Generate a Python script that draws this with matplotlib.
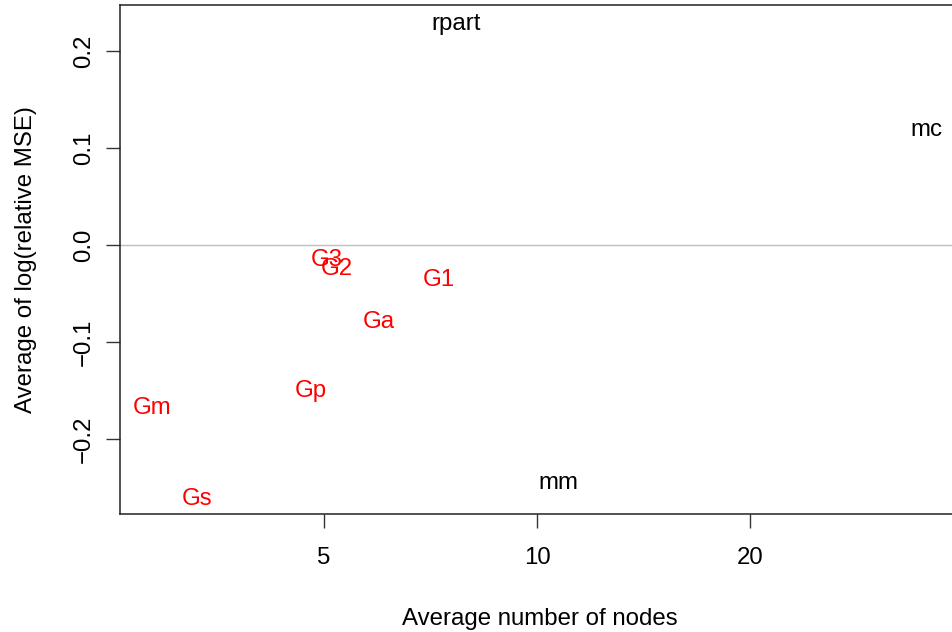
import matplotlib
matplotlib.use('Agg')
import matplotlib.pyplot as plt
from matplotlib.ticker import FixedLocator, NullLocator

plt.rcParams['font.family'] = ['Liberation Sans', 'DejaVu Sans']

# Method labels with average node count (x) and average log(relative MSE) (y)
methods = ['rpart', 'mc', 'mm', 'G3', 'G2', 'G1', 'Ga', 'Gp', 'Gm', 'Gs']
nodes = [7.68, 35.5, 10.71, 5.05, 5.21, 7.27, 5.98, 4.79, 2.86, 3.31]
rel_mse = [0.2305, 0.121, -0.243, -0.0134, -0.0217, -0.033, -0.0765, -0.148, -0.165, -0.259]
colours = ['black', 'black', 'black', 'red', 'red', 'red', 'red', 'red', 'red', 'red']

x_ticks = [5, 10, 20]
y_ticks = [-0.2, -0.1, 0.0, 0.1, 0.2]

W, H = 952, 632
fig = plt.figure(figsize=(W / 100, H / 100), dpi=100)
# the plot box runs past the right edge of the picture, as in the original
ax = fig.add_axes([120 / W, (H - 514) / H, (960 - 120) / W, (514 - 5) / H])

ax.set_xscale('log')
ax.set_xlim(2.574, 39.6)
ax.set_ylim(-0.2773, 0.2474)

ax.axhline(0, color='#BEBEBE', lw=1, zorder=1)

for lab, xv, yv, c in zip(methods, nodes, rel_mse, colours):
    ax.text(xv, yv, lab, color=c, fontsize=17.3, ha='center', va='center_baseline')

ax.xaxis.set_major_locator(FixedLocator(x_ticks))
ax.xaxis.set_minor_locator(NullLocator())
ax.set_xticklabels([str(t) for t in x_ticks])
ax.yaxis.set_major_locator(FixedLocator(y_ticks))
ax.set_yticklabels(['\u22120.2', '\u22120.1', '0.0', '0.1', '0.2'],
                   rotation=90, va='center')

ax.tick_params(axis='both', length=10, width=1, labelsize=17.3, color='#333333')
ax.tick_params(axis='x', pad=14)
ax.tick_params(axis='y', pad=8)
for s in ax.spines.values():
    s.set_linewidth(1.1)
    s.set_color('#222222')

ax.set_xlabel('Average number of nodes', fontsize=17.3, labelpad=28)
ax.set_ylabel('Average of log(relative MSE)', fontsize=17.3, labelpad=26)

fig.savefig('out.png', dpi=100)
